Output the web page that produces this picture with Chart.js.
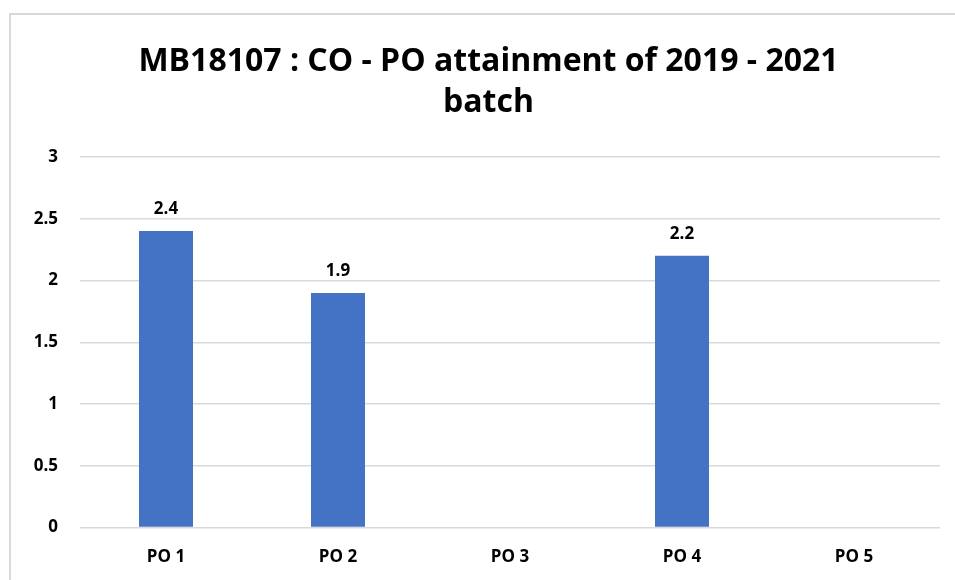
<!DOCTYPE html>
<html>
<head>
<meta charset="utf-8">
<script src="https://cdn.jsdelivr.net/npm/chart.js@4/dist/chart.umd.min.js"></script>
<style>
  html, body { margin: 0; padding: 0; background: #fff; }
  #wrap { position: relative; width: 955px; height: 580px; }
  #frame { position: absolute; left: 9px; top: 13px; width: 960px; height: 600px; border: 2px solid #d9d9d9; box-sizing: border-box; }
  canvas { position: absolute; left: 0; top: 0; }
</style>
</head>
<body>
<div id="wrap">
  <div id="frame"></div>
  <canvas id="poChart" width="955" height="580"></canvas>
</div>
<script>
const categories = ["PO 1", "PO 2", "PO 3", "PO 4", "PO 5"];
const attainment = [2.4, 1.9, null, 2.2, null];
const yTickLabels = ["0", "0.5", "1", "1.5", "2", "2.5", "3"];
const titleLines = ["MB18107 : CO - PO attainment of 2019 - 2021", "batch"];

const fontFamily = "'Open Sans', Lato, sans-serif";

// draws the value above each bar
const barLabels = {
  id: "barLabels",
  afterDatasetsDraw(chart) {
    const ctx = chart.ctx;
    const meta = chart.getDatasetMeta(0);
    ctx.save();
    ctx.font = "bold 17px " + fontFamily;
    ctx.fillStyle = "#000";
    ctx.textAlign = "center";
    ctx.textBaseline = "alphabetic";
    meta.data.forEach(function(bar, i) {
      const v = attainment[i];
      if (v === null) return;
      ctx.fillText(v.toString(), bar.x, bar.y - 17);
    });
    ctx.restore();
  }
};

// the two title lines, centred on the outer frame rather than the plot
const frameTitle = {
  id: "frameTitle",
  afterDraw(chart) {
    const ctx = chart.ctx;
    ctx.save();
    ctx.font = "bold 32px " + fontFamily;
    ctx.fillStyle = "#000";
    ctx.textAlign = "center";
    ctx.textBaseline = "middle";
    titleLines.forEach(function(line, i) {
      ctx.fillText(line, chart.width / 2 + 11, 62 + i * 41);
    });
    ctx.restore();
  }
};

new Chart("poChart", {
  type: "bar",
  data: {
    labels: categories,
    datasets: [{
      data: attainment,
      backgroundColor: "#4472C4",
      categoryPercentage: 1,
      barPercentage: 0.314
    }]
  },
  options: {
    responsive: false,
    animation: false,
    layout: { padding: { top: 157, right: 15, bottom: -6, left: 0 } },
    plugins: {
      legend: { display: false },
      tooltip: { enabled: false },
      title: { display: false }
    },
    scales: {
      x: {
        grid: { display: false, drawTicks: false },
        border: { display: false },
        ticks: { color: "#000", padding: 19, font: { family: fontFamily, size: 17, weight: "bold" } }
      },
      y: {
        min: 0,
        max: 3,
        afterFit(scale) { scale.width = 80; },
        grid: { color: "#d9d9d9", lineWidth: 1.5, drawTicks: false },
        border: { display: false },
        ticks: {
          stepSize: 0.5,
          color: "#000",
          padding: 22,
          font: { family: fontFamily, size: 17, weight: "bold" },
          callback: function(value, index) { return yTickLabels[index]; }
        }
      }
    }
  },
  plugins: [barLabels, frameTitle]
});
</script>
</body>
</html>
